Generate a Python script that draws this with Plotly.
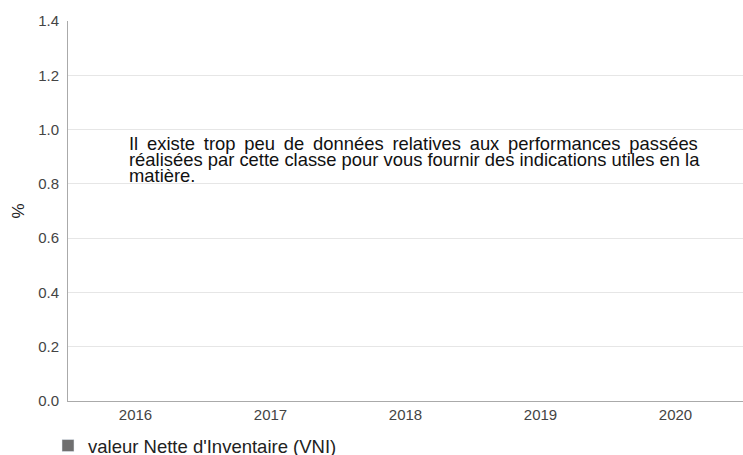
import plotly.graph_objects as go

years = ["2016", "2017", "2018", "2019", "2020"]
vni_values = [None, None, None, None, None]
series_name = "valeur Nette d'Inventaire (VNI)"
y_ticks = [0.0, 0.2, 0.4, 0.6, 0.8, 1.0, 1.2, 1.4]
message_lines = [
    "Il existe trop peu de données relatives aux performances passées",
    "réalisées par cette classe pour vous fournir des indications utiles en la",
    "matière.",
]

W, H = 743, 455
L, R, T, B = 68, 0, 21, 54
plot_h = H - T - B
plot_w = W - L - R


def py(page_y):
    return (H - B - page_y) / plot_h


def px(page_x):
    return (page_x - L) / plot_w


def justify(line):
    return line.replace(" ", "\u2009 ")


fig = go.Figure()
fig.add_trace(go.Bar(x=years, y=vni_values, name=series_name,
                     marker_color="#6f6f6f", showlegend=True))

annotations = []
for i, line in enumerate(message_lines):
    text = justify(line) if i == 0 else line
    annotations.append(dict(
        text=text, xref="paper", yref="paper",
        x=px(127), y=py(143 + 16 * i),
        xanchor="left", yanchor="middle", align="left", showarrow=False,
        font=dict(size=18.4, color="#111111",
                  family="Liberation Sans, Arial, sans-serif")))

fig.update_layout(
    width=W, height=H,
    margin=dict(l=L, r=R, t=T, b=B, autoexpand=False),
    paper_bgcolor="white", plot_bgcolor="white",
    font=dict(family="Liberation Sans, Arial, sans-serif", color="#444444", size=15),
    showlegend=True,
    legend=dict(orientation="h", x=px(48), xanchor="left", y=py(427), yanchor="top",
                font=dict(size=18.5, color="#222222"), itemwidth=30,
                bgcolor="rgba(0,0,0,0)"),
    xaxis=dict(type="category", range=[-0.5, 4.5], showline=True, linecolor="#aaaaaa",
               linewidth=1, showgrid=False, ticks="", automargin=False,
               tickfont=dict(size=15, color="#444444")),
    yaxis=dict(range=[0, 1.4], tickvals=y_ticks, ticktext=[f"{v:.1f}" for v in y_ticks],
               showline=True, linecolor="#aaaaaa", linewidth=1, automargin=False,
               showgrid=True, gridcolor="#e6e6e6", zeroline=False, ticks="",
               ticklabelstandoff=5,
               tickfont=dict(size=15, color="#444444"),
               title=dict(text="%", font=dict(size=17, color="#222222"), standoff=9)),
    annotations=annotations,
)

fig.write_html(
    "out.html",
    config={"displayModeBar": False},
    post_script="document.body.style.margin='0';document.body.style.overflow='hidden';",
)
